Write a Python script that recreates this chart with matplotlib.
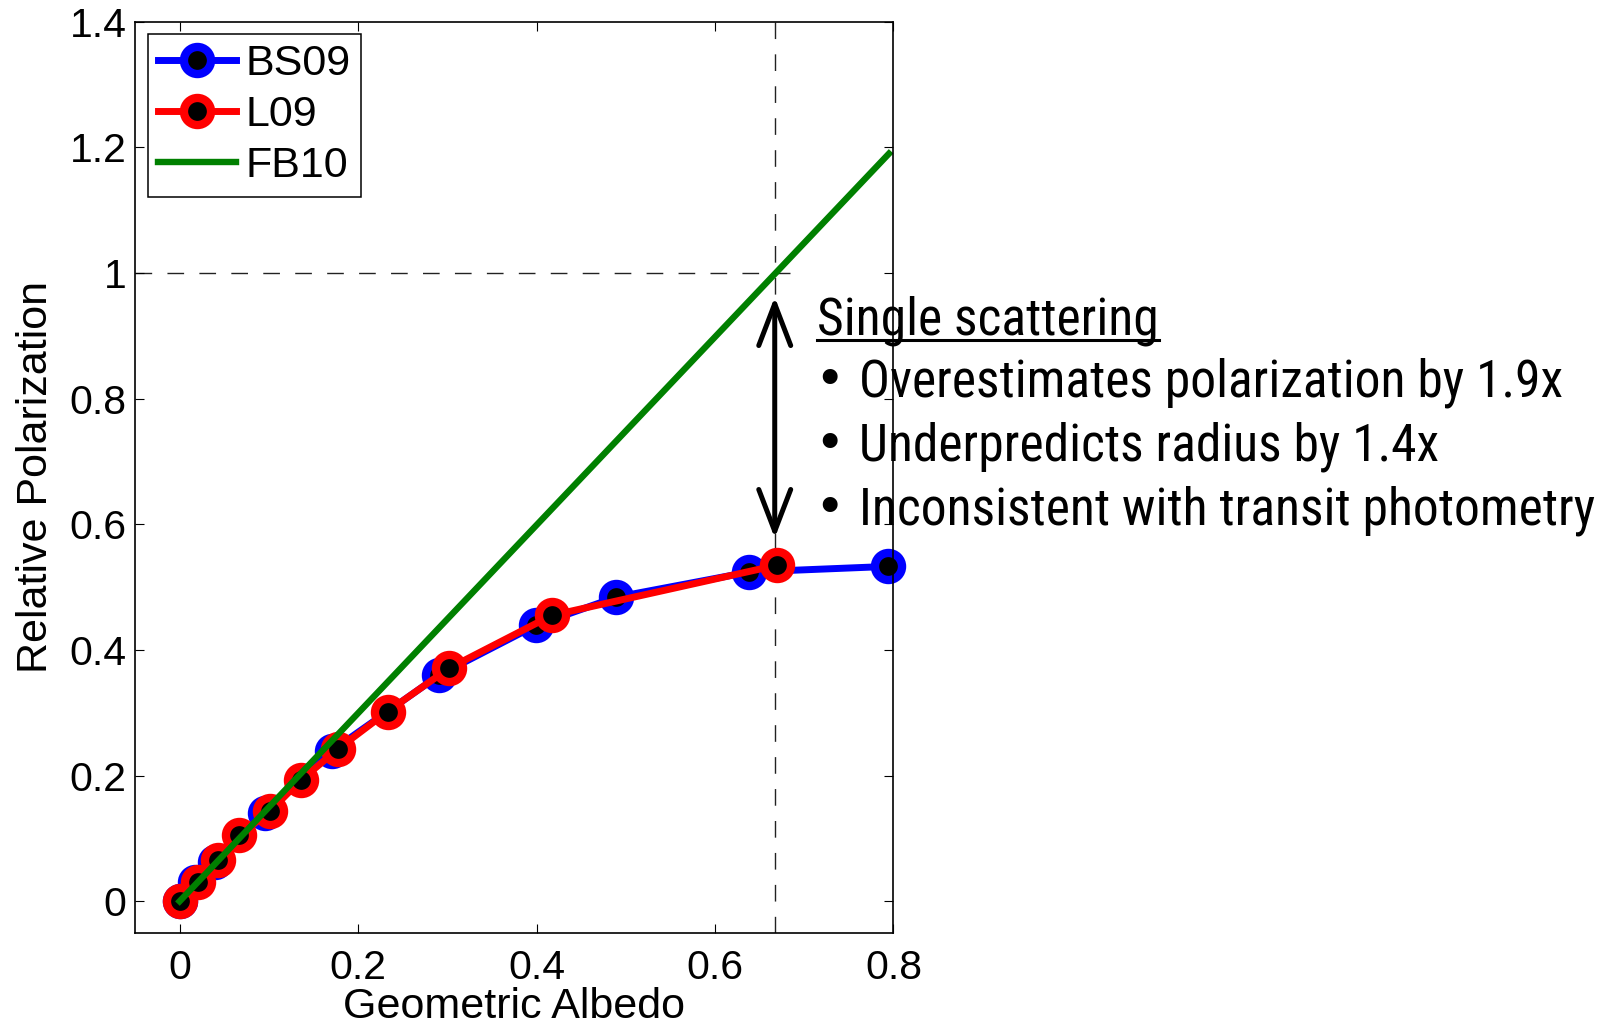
import matplotlib
matplotlib.use("Agg")
import matplotlib.pyplot as plt
from matplotlib import font_manager
from matplotlib.patches import FancyArrowPatch
from matplotlib.lines import Line2D

# values
bs09_x = [0, 0.017, 0.040, 0.096, 0.171, 0.291, 0.399, 0.489, 0.638, 0.794]
bs09_y = [0, 0.031, 0.062, 0.140, 0.240, 0.360, 0.439, 0.484, 0.524, 0.533]
l09_x = [0, 0.0205, 0.043, 0.067, 0.101, 0.136, 0.178, 0.233, 0.302, 0.417, 0.670]
l09_y = [0, 0.031, 0.065, 0.105, 0.143, 0.193, 0.243, 0.302, 0.371, 0.455, 0.535]
fb10_x = [0, 0.795]
fb10_y = [0, 1.19]

x_ticks = [0, 0.2, 0.4, 0.6, 0.8]
y_ticks = [0, 0.2, 0.4, 0.6, 0.8, 1.0, 1.2, 1.4]
y_ticklabels = ["0", "0.2", "0.4", "0.6", "0.8", "1", "1.2", "1.4"]

ref_albedo = 0.667
arrow_top, arrow_bottom = 0.962, 0.578

heading = "Single scattering"
bullets = ["Overestimates polarization by 1.9x",
           "Underpredicts radius by 1.4x",
           "Inconsistent with transit photometry"]

W, H = 1614, 1027
plt.rcParams['font.family'] = ['Liberation Sans', 'DejaVu Sans']
plt.rcParams['lines.scale_dashes'] = False

# a narrow face for the annotation, if one is installed
installed = {f.name: f for f in font_manager.fontManager.ttflist}
narrow = None
for cand in ['Liberation Sans Narrow', 'DejaVu Sans Condensed', 'Roboto Condensed',
             'Open Sans Condensed', 'Noto Sans Condensed']:
    if cand in installed:
        narrow = dict(family=[cand, 'DejaVu Sans'])
        break
if narrow is None:
    cond = [f for f in font_manager.fontManager.ttflist
            if str(f.stretch) in ('condensed', 'semi-condensed', '75', '87')
            and f.style == 'normal' and f.weight in (400, 'normal', 'regular')]
    if cond:
        narrow = dict(family=[cond[0].name, 'DejaVu Sans'], stretch=cond[0].stretch)
    else:
        narrow = dict(family=['Lato', 'DejaVu Sans'])

fig = plt.figure(figsize=(W / 100, H / 100), dpi=100)
ax = fig.add_axes([135 / W, 1 - 932.7 / H, (893.4 - 135) / W, (932.7 - 21.7) / H])

mk = dict(marker='o', ms=19.5, mew=6, mfc='k', clip_on=False)
ax.plot(bs09_x, bs09_y, color='#0000ff', lw=5, mec='#0000ff', label='BS09', **mk)
ax.plot(l09_x, l09_y, color='#ff0000', lw=5, mec='#ff0000', label='L09', **mk)
ax.plot(fb10_x, fb10_y, color='#008000', lw=4.6, label='FB10', clip_on=False)

# guide lines
ax.plot([ref_albedo, ref_albedo], [-0.05, 1.4], color='#222222', lw=1, dashes=(12, 11), zorder=1.5)
ax.plot([-0.05, 0.684], [1, 1], color='#222222', lw=1, dashes=(12, 11), zorder=1.5)

arr = FancyArrowPatch((ref_albedo, arrow_top), (ref_albedo, arrow_bottom),
                      arrowstyle='<->,head_length=3.0,head_width=1.15',
                      mutation_scale=10, lw=3.6, color='k',
                      shrinkA=0, shrinkB=0, clip_on=False, zorder=5)
ax.add_patch(arr)

ax.set_xlim(-0.05, 0.8)
ax.set_ylim(-0.05, 1.4)
ax.set_xticks(x_ticks)
ax.set_xticklabels([f"{v:g}" for v in x_ticks])
ax.set_yticks(y_ticks)
ax.set_yticklabels(y_ticklabels)
ax.tick_params(direction='in', length=6.5, width=0.8, top=True, right=True,
               labelsize=29.5)
ax.tick_params(axis='x', pad=12)
ax.tick_params(axis='y', pad=6)
for s in ax.spines.values():
    s.set_linewidth(1.2)

ax.set_xlabel("Geometric Albedo", fontsize=31, labelpad=0)
ax.set_ylabel("Relative Polarization", fontsize=31, labelpad=10)

leg = ax.legend(loc='upper left', bbox_to_anchor=(13 / 758.4, 1 - 12 / 911),
                borderaxespad=0, fontsize=31, numpoints=1, handlelength=1.8,
                handletextpad=0.22, borderpad=0.24, labelspacing=0.26,
                fancybox=False, framealpha=1)
leg.get_frame().set_edgecolor('k')
leg.get_frame().set_linewidth(1.1)

# annotation text right of the axes
fs = 34
renderer = fig.canvas.get_renderer()
probe = fig.text(0, 0, bullets[2], fontsize=fs, **narrow)
fs = fs * 736 / probe.get_window_extent(renderer).width
probe.remove()

ht = fig.text(817 / W, 1 - 335 / H, heading, fontsize=fs, ha='left', va='baseline', **narrow)
bb = ht.get_window_extent(renderer)
fig.add_artist(Line2D([817 / W, (817 + bb.width) / W], [1 - 340 / H, 1 - 340 / H],
                      color='k', lw=2.2))
for i, line in enumerate(bullets):
    yb = 1 - (396 + 64 * i) / H
    fig.text(829 / W, yb, "\u2022", fontsize=fs, ha='center', va='baseline',
             family=['DejaVu Sans'])
    fig.text(859 / W, yb, line, fontsize=fs, ha='left', va='baseline', **narrow)

fig.savefig("out.png", dpi=100)
